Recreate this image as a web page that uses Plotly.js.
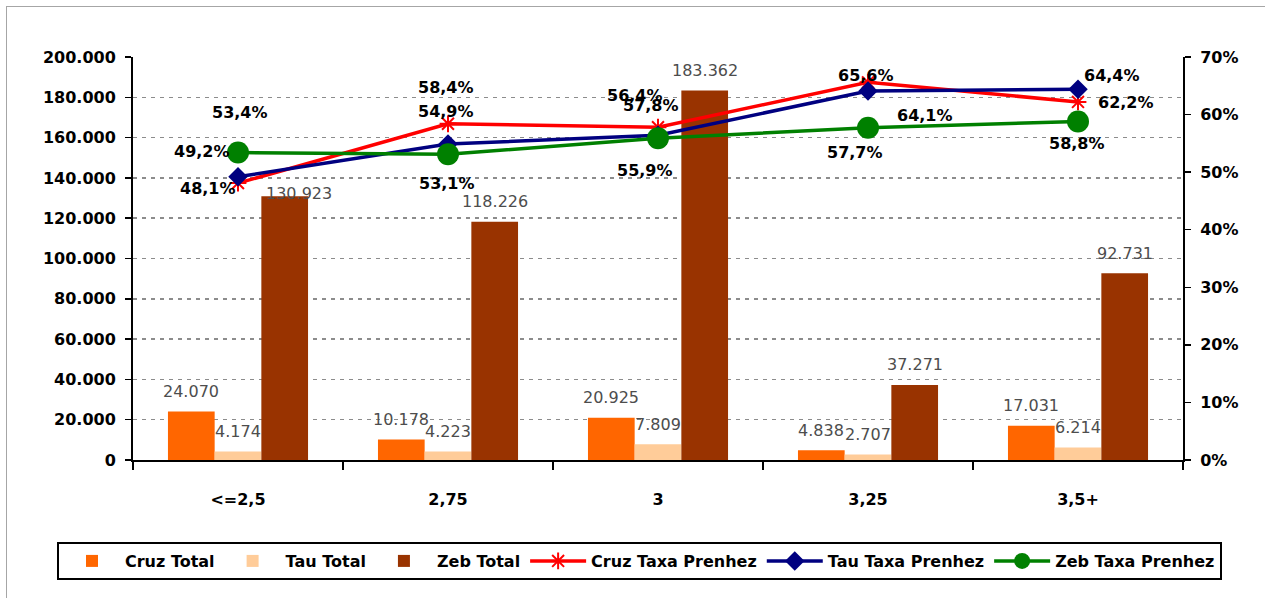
<!DOCTYPE html>
<html>
<head>
<meta charset="utf-8">
<script src="https://cdn.plot.ly/plotly-3.0.1.min.js"></script>
<style>
  html, body { margin: 0; padding: 0; background: #fff; }
  #wrap { position: relative; width: 1265px; height: 598px; }
  #chart { position: absolute; left: 0; top: 0; width: 1265px; height: 598px; }
  #frame { position: absolute; left: 6px; top: 6px; width: 1300px; height: 700px;
           border-left: 1px solid #a6a6a6; border-top: 1px solid #a6a6a6; pointer-events: none; }
</style>
</head>
<body>
<div id="wrap"><div id="chart"></div><div id="frame"></div></div>
<script>
// ---- data ----
const categories = ['<=2,5', '2,75', '3', '3,25', '3,5+'];
const cruzTotal = [24070, 10178, 20925, 4838, 17031];
const tauTotal  = [4174, 4223, 7809, 2707, 6214];
const zebTotal  = [130923, 118226, 183362, 37271, 92731];
const cruzTaxa  = [0.481, 0.584, 0.578, 0.656, 0.622];
const tauTaxa   = [0.492, 0.549, 0.564, 0.641, 0.644];
const zebTaxa   = [0.534, 0.531, 0.559, 0.577, 0.588];
const leftTicks = [0, 20000, 40000, 60000, 80000, 100000, 120000, 140000, 160000, 180000, 200000];

// ---- label placement (pixel shifts, style only) ----
const cruzLblShift = [[-30, -5], [-2, 36], [-7, 22], [-2, 7], [48, -1]];
const tauLblShift  = [[-36, 25], [-2, 32], [-23, 40], [57, -25], [34, 14]];
const zebLblShift  = [[2, 40], [-1, -29], [-13, -32], [-13, -25], [-1, -22]];
const barXShift = {cruz: -47, tau: 0, zeb: 47};
const zebBarExtra = [[14, -17], [0, 0], [0, 0], [0, 0], [0, 0]];

function fmtThousands(n) {
  return String(n).replace(/\B(?=(\d{3})+(?!\d))/g, '.');
}
function fmtPct(v) {
  return (v * 100).toFixed(1).replace('.', ',') + '%';
}

const lblFont = {family: 'DejaVu Sans', size: 16, color: '#000', weight: 'bold'};
const barLblFont = {family: 'DejaVu Sans', size: 16, color: '#4d4d4d', weight: 'normal'};

const traces = [
  {type: 'bar', name: 'Cruz Total', x: categories, y: cruzTotal, marker: {color: '#FF6600'}, yaxis: 'y', hoverinfo: 'y'},
  {type: 'bar', name: 'Tau Total', x: categories, y: tauTotal, marker: {color: '#FFCC99'}, yaxis: 'y', hoverinfo: 'y'},
  {type: 'bar', name: 'Zeb Total', x: categories, y: zebTotal, marker: {color: '#993300'}, yaxis: 'y', hoverinfo: 'y'},
  {type: 'scatter', mode: 'lines+markers', name: 'Cruz Taxa Prenhez', x: categories, y: cruzTaxa, yaxis: 'y2',
   line: {color: '#FF0000', width: 3.5},
   marker: {symbol: 'asterisk-open', size: 14, color: '#FF0000', line: {color: '#FF0000', width: 2}}},
  {type: 'scatter', mode: 'lines+markers', name: 'Tau Taxa Prenhez', x: categories, y: tauTaxa, yaxis: 'y2',
   line: {color: '#000080', width: 3.5},
   marker: {symbol: 'diamond', size: 15, color: '#000080'}},
  {type: 'scatter', mode: 'lines+markers', name: 'Zeb Taxa Prenhez', x: categories, y: zebTaxa, yaxis: 'y2',
   line: {color: '#008000', width: 3.5},
   marker: {symbol: 'circle', size: 22, color: '#008000'}}
];

// annotations on a category axis: x given as the category index
const annotations = [];
function addLineLabels(vals, shifts) {
  vals.forEach((v, i) => {
    annotations.push({x: i, y: v, xref: 'x', yref: 'y2', text: fmtPct(v),
      showarrow: false, xanchor: 'center', yanchor: 'middle',
      xshift: shifts[i][0], yshift: shifts[i][1], font: lblFont});
  });
}
function addBarLabels(vals, xs, extra) {
  vals.forEach((v, i) => {
    const e = extra ? extra[i] : [0, 0];
    annotations.push({x: i, y: v, xref: 'x', yref: 'y', text: fmtThousands(v),
      showarrow: false, xanchor: 'center', yanchor: 'middle',
      xshift: xs + e[0], yshift: 20 + e[1], font: barLblFont});
  });
}
addBarLabels(cruzTotal, barXShift.cruz);
addBarLabels(tauTotal, barXShift.tau);
addBarLabels(zebTotal, barXShift.zeb, zebBarExtra);
addLineLabels(cruzTaxa, cruzLblShift);
addLineLabels(tauTaxa, tauLblShift);
addLineLabels(zebTaxa, zebLblShift);

const tickFont = {family: 'DejaVu Sans', size: 16, color: '#000', weight: 'bold'};

const layout = {
  width: 1265, height: 598,
  margin: {l: 133, r: 82, t: 57, b: 138, pad: 0},
  paper_bgcolor: 'rgba(0,0,0,0)', plot_bgcolor: '#fff',
  separators: ',.',
  barmode: 'group', bargap: 0.333, bargroupgap: 0,
  showlegend: true,
  legend: {orientation: 'h', x: -0.0724, y: -0.2035, xanchor: 'left', yanchor: 'top',
    bordercolor: '#000', borderwidth: 2, bgcolor: '#fff',
    font: {family: 'DejaVu Sans', size: 16, color: '#000', weight: 'bold'},
    itemwidth: 56, traceorder: 'normal'},
  xaxis: {type: 'category', showline: true, linecolor: '#000', linewidth: 2,
    ticks: 'outside', tickson: 'boundaries', ticklen: 8, tickwidth: 1.5, tickcolor: '#000',
    tickfont: tickFont, ticklabelstandoff: 24, showgrid: false, zeroline: false},
  yaxis: {range: [0, 200000], tickvals: leftTicks, tickformat: ',d', showline: true, linecolor: '#000', linewidth: 2,
    ticks: 'outside', ticklen: 6, tickwidth: 1.5, tickcolor: '#000', tickfont: tickFont, ticklabelstandoff: 6,
    showgrid: true, gridcolor: '#8c8c8c', gridwidth: 1.5, griddash: '4px,5px', zeroline: false},
  yaxis2: {range: [0, 0.7], dtick: 0.1, tick0: 0, tickformat: '.0%', overlaying: 'y', side: 'right',
    showline: true, linecolor: '#000', linewidth: 2, ticks: 'outside', ticklen: 6, tickwidth: 1.5, tickcolor: '#000',
    tickfont: tickFont, ticklabelstandoff: 6, showgrid: false, zeroline: false},
  annotations: annotations
};

Plotly.newPlot('chart', traces, layout, {displayModeBar: false, staticPlot: true});
</script>
</body>
</html>
